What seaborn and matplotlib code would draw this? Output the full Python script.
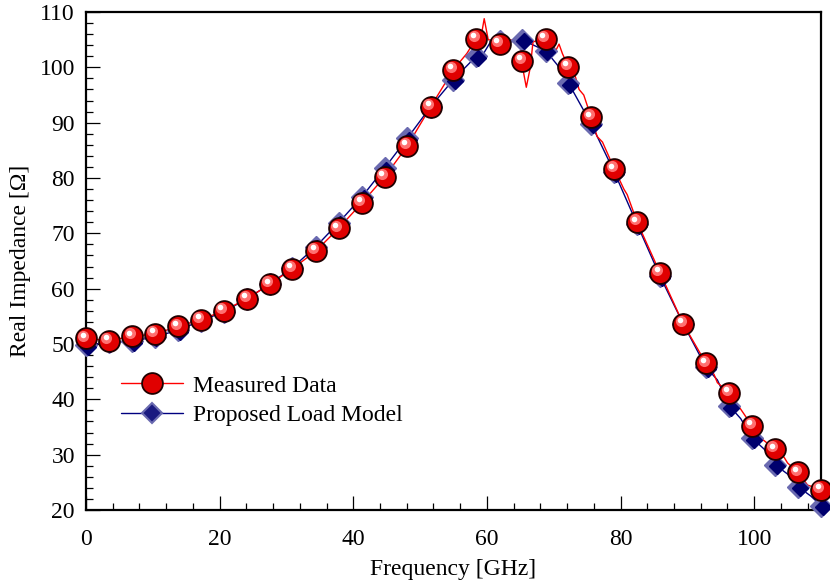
import numpy as np
import pandas as pd
import matplotlib
matplotlib.use("Agg")
import matplotlib.pyplot as plt
import matplotlib.transforms as mtransforms
from matplotlib.lines import Line2D
from matplotlib.ticker import MultipleLocator
import seaborn as sns

# ---- marker data ----
freq_pts = [0.0, 3.4, 6.9, 10.3, 13.8, 17.2, 20.6, 24.1, 27.5, 30.9, 34.4,
            37.8, 41.3, 44.7, 48.1, 51.6, 55.0, 58.4, 61.9, 65.3, 68.8,
            72.2, 75.6, 79.1, 82.5, 85.9, 89.4, 92.8, 96.3, 99.7, 103.1,
            106.6, 110.0]
measured_pts = [51.0, 50.6, 51.4, 51.8, 53.2, 54.4, 56.0, 58.2, 60.8, 63.6,
                66.8, 70.9, 75.5, 80.2, 85.8, 92.9, 99.6, 105.2, 104.3, 101.2,
                105.2, 100.1, 91.0, 81.6, 72.0, 62.9, 53.6, 46.5, 41.2, 35.2,
                31.0, 26.8, 23.7]
model_pts = [49.8, 50.3, 50.5, 51.3, 52.5, 54.2, 55.8, 58.2, 60.8, 63.8,
             67.6, 71.9, 76.6, 81.8, 87.2, 92.9, 97.8, 102.0, 104.8, 105.0,
             103.0, 97.2, 89.8, 81.0, 71.6, 62.3, 53.6, 45.8, 38.8, 33.0,
             28.2, 24.2, 20.8]

# ---- dense traces ----
meas_line_f = [0.0, 3.4, 6.9, 10.3, 13.8, 17.2, 20.6, 24.1, 27.5, 30.9, 34.4,
               37.8, 41.3, 44.7, 48.1, 51.6, 55.0, 57.0, 58.4, 59.2, 59.6,
               60.2, 61.0, 62.5, 64.0, 65.0, 65.5, 65.9, 66.5, 66.9, 68.0,
               68.8, 69.8, 70.3, 70.8, 71.3, 72.2, 73.2, 73.8, 74.5, 75.6,
               76.5, 77.3, 79.1, 80.5, 81.0, 82.5, 85.9, 89.4, 92.8, 94.0,
               94.5, 96.3, 99.7, 100.5, 101.0, 103.1, 104.5, 105.0, 106.6,
               108.0, 110.0]
meas_line_z = [51.0, 50.6, 51.4, 51.8, 53.2, 54.4, 56.0, 58.2, 60.8, 63.6,
               66.8, 70.9, 75.5, 80.2, 85.8, 92.9, 99.6, 102.5, 105.2, 106.0,
               108.8, 105.0, 104.8, 105.0, 104.9, 104.5, 99.0, 96.4, 100.0,
               104.6, 105.0, 105.2, 104.5, 103.0, 104.2, 102.5, 100.1, 98.5,
               96.0, 95.0, 91.0, 87.5, 86.5, 81.6, 78.0, 77.0, 72.0, 62.9,
               53.6, 46.5, 44.5, 43.0, 41.2, 35.2, 33.5, 33.0, 31.0, 29.5,
               28.5, 26.8, 24.5, 23.7]
model_line_f = [0.0, 3.4, 6.9, 10.3, 13.8, 17.2, 20.6, 24.1, 27.5, 30.9, 34.4,
                37.8, 41.3, 44.7, 48.1, 51.6, 55.0, 58.4, 59.5, 60.5, 61.9,
                63.5, 65.3, 67.0, 68.8, 70.5, 72.2, 75.6, 79.1, 82.5, 85.9,
                89.4, 92.8, 94.5, 96.3, 98.0, 99.7, 101.5, 103.1, 105.0,
                106.6, 108.5, 110.0]
model_line_z = [49.8, 50.3, 50.5, 51.3, 52.5, 54.2, 55.8, 58.2, 60.8, 63.8,
                67.6, 71.9, 76.6, 81.8, 87.2, 92.9, 97.8, 102.0, 102.5, 104.5,
                104.8, 104.6, 105.0, 104.0, 103.0, 100.5, 97.2, 89.8, 81.0,
                71.6, 62.3, 53.6, 45.8, 43.5, 38.8, 36.5, 33.0, 31.0, 28.2,
                26.5, 24.2, 22.5, 20.8]

x_label = "Frequency [GHz]"
y_label = "Real Impedance [Ω]"
legend_labels = ["Measured Data", "Proposed Load Model"]

sns.set_style("ticks")
plt.rcParams["font.family"] = ["Liberation Serif", "DejaVu Serif"]
plt.rcParams["text.color"] = "black"
plt.rcParams["axes.labelcolor"] = "black"
plt.rcParams["xtick.color"] = "black"
plt.rcParams["ytick.color"] = "black"

fig = plt.figure(figsize=(8.3, 5.86), dpi=100)
ax = fig.add_axes([0.1036, 0.1297, 0.8855, 0.8498])

RED = "#ff0000"
NAVY = "#000080"

meas_line = pd.DataFrame({"f": meas_line_f, "z": meas_line_z})
model_line = pd.DataFrame({"f": model_line_f, "z": model_line_z})
sns.lineplot(data=model_line, x="f", y="z", sort=False, color=NAVY,
             linewidth=1.0, ax=ax, zorder=2)
sns.lineplot(data=meas_line, x="f", y="z", sort=False, color=RED,
             linewidth=1.0, ax=ax, zorder=3)

# diamonds (model) with a lighter bevel
ax.plot(freq_pts, model_pts, linestyle="none", marker="D", markersize=11,
        markerfacecolor="#6a6ab0", markeredgecolor="#6a6ab0", zorder=4,
        clip_on=False)
ax.plot(freq_pts, model_pts, linestyle="none", marker="D", markersize=8,
        markerfacecolor="#00006e", markeredgecolor="#00006e", zorder=4,
        clip_on=False,
        transform=mtransforms.offset_copy(ax.transData, fig=fig, x=1.2, y=-1.2,
                                          units="points"))

# spheres (measured)
ax.plot(freq_pts, measured_pts, linestyle="none", marker="o", markersize=15,
        markerfacecolor="#e00000", markeredgecolor="#200000",
        markeredgewidth=1.3, zorder=5, clip_on=False)
hl = mtransforms.offset_copy(ax.transData, fig=fig, x=-1.8, y=2.0,
                             units="points")
ax.plot(freq_pts, measured_pts, linestyle="none", marker="o", markersize=8,
        markerfacecolor="#ff7070", markeredgewidth=0, zorder=6,
        clip_on=False, transform=hl)
hl2 = mtransforms.offset_copy(ax.transData, fig=fig, x=-2.3, y=2.6,
                              units="points")
ax.plot(freq_pts, measured_pts, linestyle="none", marker="o", markersize=4,
        markerfacecolor="#ffffff", markeredgewidth=0, zorder=7,
        clip_on=False, transform=hl2)

ax.set_xlim(0, 110)
ax.set_ylim(20, 110)
ax.xaxis.set_major_locator(MultipleLocator(20))
ax.xaxis.set_minor_locator(MultipleLocator(4))
ax.yaxis.set_major_locator(MultipleLocator(10))
ax.yaxis.set_minor_locator(MultipleLocator(2))
ax.tick_params(which="both", direction="in", top=False, right=False,
               width=0.9, labelsize=17, colors="black", labelcolor="black")
ax.tick_params(which="major", length=10)
ax.tick_params(axis="y", which="major", pad=8)
ax.tick_params(axis="x", which="major", pad=14)
ax.tick_params(which="minor", length=5)
for s in ax.spines.values():
    s.set_linewidth(1.6)
    s.set_color("black")

ax.set_xlabel(x_label, fontsize=17, labelpad=6, color="black")
ax.set_ylabel(y_label, fontsize=17, labelpad=6, color="black")

handles = [
    Line2D([], [], color=RED, linewidth=1.0, marker="o", markersize=15,
           markerfacecolor="#e00000", markeredgecolor="#200000",
           markeredgewidth=1.3),
    Line2D([], [], color=NAVY, linewidth=1.0, marker="D", markersize=10,
           markerfacecolor="#1a1a80", markeredgecolor="#6a6ab0",
           markeredgewidth=1.5),
]
leg = ax.legend(handles, legend_labels, loc="upper left",
                bbox_to_anchor=(0.035, 0.29), frameon=False, fontsize=17,
                handlelength=2.6, handletextpad=0.45, labelspacing=0.35,
                borderaxespad=0)
for t in leg.get_texts():
    t.set_color("black")

fig.savefig("out.png", dpi=100)
